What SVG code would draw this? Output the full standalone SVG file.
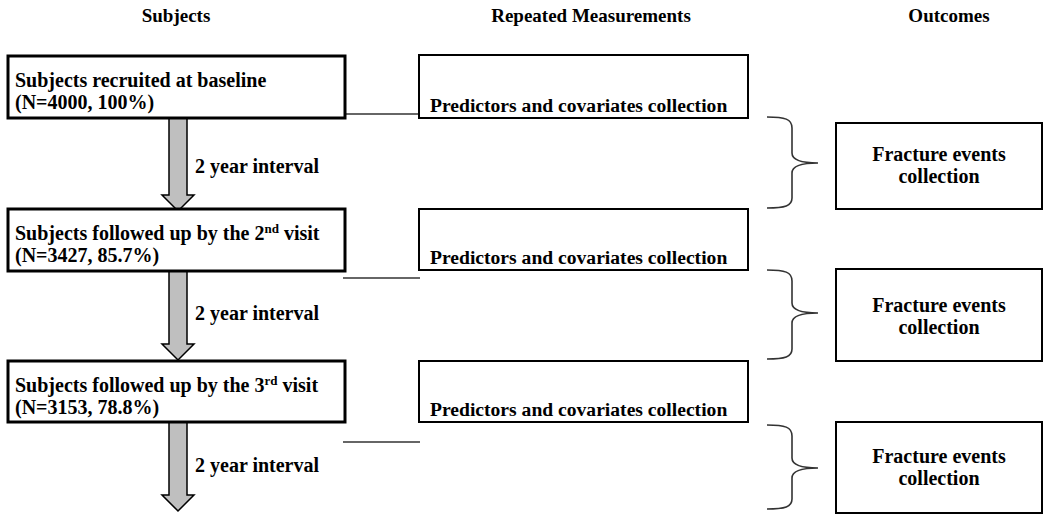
<svg xmlns="http://www.w3.org/2000/svg" width="1050" height="522" viewBox="0 0 1050 522">
<style>
text{font-family:"Liberation Serif","Times New Roman",serif;font-weight:bold;font-size:20px;fill:#000}
.hdr{font-size:19px;text-anchor:middle}
.mid{text-anchor:middle}
.pred{font-size:19.6px}
.lbox{fill:#fff;stroke:#000;stroke-width:3}
.mbox{fill:#fff;stroke:#000;stroke-width:2}
.rbox{fill:#fff;stroke:#000;stroke-width:2}
.arrow{fill:#bfbfbf;stroke:#000;stroke-width:1.5;stroke-linejoin:miter}
.line{stroke:#333;stroke-width:1.3;fill:none}
.brace{stroke:#333;stroke-width:1.6;fill:none}
.sup{font-size:13px}
</style>
<rect width="1050" height="522" fill="#fff"/>
<g id="headers">
<text class="hdr" x="176" y="22">Subjects</text>
<text class="hdr" x="591" y="22">Repeated Measurements</text>
<text class="hdr" x="949" y="22">Outcomes</text>
</g>
<g id="connectors">
<line class="line" x1="345" y1="114" x2="420" y2="114"/>
<line class="line" x1="343" y1="278" x2="420" y2="278"/>
<line class="line" x1="343" y1="442" x2="420" y2="442"/>
<path class="brace" d="M767,117 C785,117 792,119 792,128 L792,153 C792,160 800,163 818,163 C800,163 792,166 792,173 L792,198 C792,206 785,208 767,208"/>
<path class="brace" d="M767,270 C785,270 792,272 792,281 L792,303 C792,310 800,313 818,313 C800,313 792,316 792,323 L792,349 C792,357 785,359 767,359"/>
<path class="brace" d="M767,425 C785,425 792,427 792,436 L792,458 C792,465 800,468 818,468 C800,468 792,471 792,478 L792,499 C792,507 785,509 767,509"/>
<path class="arrow" d="M169,118 L187,118 L187,195 L194,195 L178,211 L162,195 L169,195 Z"/>
<path class="arrow" d="M169,271 L187,271 L187,344 L194,344 L178,360 L162,344 L169,344 Z"/>
<path class="arrow" d="M169,422 L187,422 L187,495 L194,495 L178,511 L162,495 L169,495 Z"/>
<text x="195" y="173">2 year interval</text>
<text x="195" y="320">2 year interval</text>
<text x="195" y="472">2 year interval</text>
</g>
<g id="subjects1">
<rect class="lbox" x="8" y="56" width="337" height="62"/>
<text x="15" y="87">Subjects recruited at baseline</text>
<text x="15" y="109">(N=4000, 100%)</text>
</g>
<g id="subjects2">
<rect class="lbox" x="8" y="209" width="337" height="62"/>
<text x="15" y="240">Subjects followed up by the 2<tspan class="sup" dy="-7">nd</tspan><tspan dy="7"> visit</tspan></text>
<text x="15" y="262">(N=3427, 85.7%)</text>
</g>
<g id="subjects3">
<rect class="lbox" x="8" y="361" width="337" height="61"/>
<text x="15" y="392">Subjects followed up by the 3<tspan class="sup" dy="-7">rd</tspan><tspan dy="7"> visit</tspan></text>
<text x="15" y="414">(N=3153, 78.8%)</text>
</g>
<g id="measure1">
<rect class="mbox" x="419" y="55" width="329" height="63"/>
<text class="pred" x="430" y="112">Predictors and covariates collection</text>
</g>
<g id="measure2">
<rect class="mbox" x="419" y="209" width="329" height="61"/>
<text class="pred" x="430" y="264">Predictors and covariates collection</text>
</g>
<g id="measure3">
<rect class="mbox" x="419" y="361" width="329" height="61"/>
<text class="pred" x="430" y="416">Predictors and covariates collection</text>
</g>
<g id="outcome1">
<rect class="rbox" x="836" y="123" width="206" height="86"/>
<text class="mid" x="939" y="161">Fracture events</text>
<text class="mid" x="939" y="183">collection</text>
</g>
<g id="outcome2">
<rect class="rbox" x="836" y="269" width="206" height="92"/>
<text class="mid" x="939" y="312">Fracture events</text>
<text class="mid" x="939" y="334">collection</text>
</g>
<g id="outcome3">
<rect class="rbox" x="836" y="422" width="206" height="91"/>
<text class="mid" x="939" y="463">Fracture events</text>
<text class="mid" x="939" y="485">collection</text>
</g>
</svg>
